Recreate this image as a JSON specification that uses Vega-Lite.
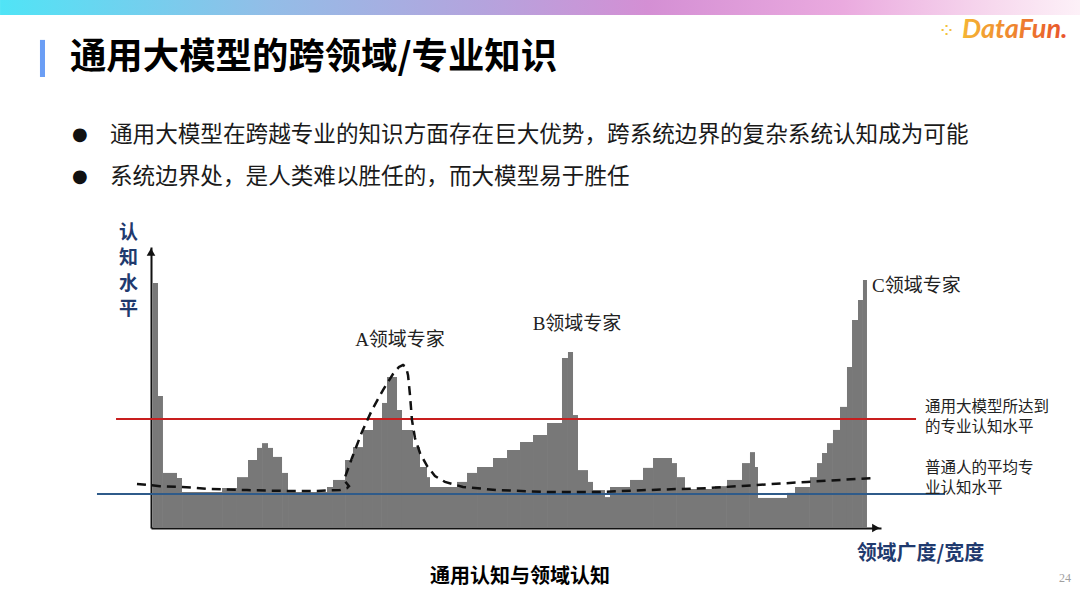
{
  "$schema": "https://vega.github.io/schema/vega-lite/v6.json",
  "width": 730,
  "height": 281,
  "autosize": {"type": "none"},
  "padding": {"left": 151, "top": 247, "right": 199, "bottom": 80},
  "background": "white",
  "config": {
    "view": {"stroke": null},
    "font": "Noto Sans CJK SC",
    "axis": {"labels": false, "ticks": false, "grid": false, "domainColor": "#111", "domainWidth": 2}
  },
  "datasets": {
    "bars": [
      {"x0": 0.27, "x1": 0.96, "level": 87.2},
      {"x0": 0.96, "x1": 1.64, "level": 47.0},
      {"x0": 1.64, "x1": 3.56, "level": 19.6},
      {"x0": 3.56, "x1": 4.25, "level": 17.8},
      {"x0": 4.25, "x1": 9.73, "level": 12.8},
      {"x0": 9.73, "x1": 11.78, "level": 14.2},
      {"x0": 11.78, "x1": 13.29, "level": 18.1},
      {"x0": 13.29, "x1": 14.52, "level": 24.2},
      {"x0": 14.52, "x1": 15.21, "level": 28.5},
      {"x0": 15.21, "x1": 16.03, "level": 30.2},
      {"x0": 16.03, "x1": 16.71, "level": 28.5},
      {"x0": 16.71, "x1": 17.95, "level": 25.3},
      {"x0": 17.95, "x1": 18.77, "level": 19.6},
      {"x0": 18.77, "x1": 24.11, "level": 12.8},
      {"x0": 24.11, "x1": 24.93, "level": 14.6},
      {"x0": 24.93, "x1": 26.58, "level": 17.1},
      {"x0": 26.58, "x1": 27.67, "level": 24.2},
      {"x0": 27.67, "x1": 29.04, "level": 28.8},
      {"x0": 29.04, "x1": 30.41, "level": 34.9},
      {"x0": 30.41, "x1": 31.64, "level": 38.4},
      {"x0": 31.64, "x1": 32.33, "level": 44.5},
      {"x0": 32.33, "x1": 33.70, "level": 53.7},
      {"x0": 33.70, "x1": 34.38, "level": 42.0},
      {"x0": 34.38, "x1": 35.89, "level": 34.9},
      {"x0": 35.89, "x1": 36.85, "level": 28.8},
      {"x0": 36.85, "x1": 37.81, "level": 21.7},
      {"x0": 37.81, "x1": 38.22, "level": 18.1},
      {"x0": 38.22, "x1": 41.92, "level": 14.6},
      {"x0": 41.92, "x1": 43.29, "level": 16.4},
      {"x0": 43.29, "x1": 44.66, "level": 19.6},
      {"x0": 44.66, "x1": 46.85, "level": 21.7},
      {"x0": 46.85, "x1": 48.77, "level": 24.9},
      {"x0": 48.77, "x1": 50.55, "level": 27.8},
      {"x0": 50.55, "x1": 52.33, "level": 30.6},
      {"x0": 52.33, "x1": 54.25, "level": 33.1},
      {"x0": 54.25, "x1": 56.30, "level": 37.4},
      {"x0": 56.30, "x1": 57.12, "level": 60.5},
      {"x0": 57.12, "x1": 57.81, "level": 62.6},
      {"x0": 57.81, "x1": 58.49, "level": 40.2},
      {"x0": 58.49, "x1": 59.86, "level": 20.6},
      {"x0": 59.86, "x1": 60.55, "level": 16.4},
      {"x0": 60.55, "x1": 62.19, "level": 13.5},
      {"x0": 62.19, "x1": 62.88, "level": 11.0},
      {"x0": 62.88, "x1": 65.62, "level": 14.6},
      {"x0": 65.62, "x1": 67.40, "level": 17.1},
      {"x0": 67.40, "x1": 68.77, "level": 21.4},
      {"x0": 68.77, "x1": 71.37, "level": 24.9},
      {"x0": 71.37, "x1": 72.05, "level": 23.1},
      {"x0": 72.05, "x1": 73.15, "level": 18.1},
      {"x0": 73.15, "x1": 77.26, "level": 13.9},
      {"x0": 77.26, "x1": 78.90, "level": 14.9},
      {"x0": 78.90, "x1": 80.96, "level": 17.1},
      {"x0": 80.96, "x1": 82.05, "level": 23.1},
      {"x0": 82.05, "x1": 82.74, "level": 27.0},
      {"x0": 82.74, "x1": 83.15, "level": 21.7},
      {"x0": 83.15, "x1": 87.12, "level": 10.7},
      {"x0": 87.12, "x1": 88.22, "level": 12.5},
      {"x0": 88.22, "x1": 90.27, "level": 14.6},
      {"x0": 90.27, "x1": 91.23, "level": 18.1},
      {"x0": 91.23, "x1": 91.92, "level": 23.1},
      {"x0": 91.92, "x1": 92.60, "level": 26.7},
      {"x0": 92.60, "x1": 93.42, "level": 30.2},
      {"x0": 93.42, "x1": 94.38, "level": 34.9},
      {"x0": 94.38, "x1": 95.34, "level": 43.1},
      {"x0": 95.34, "x1": 96.03, "level": 57.3},
      {"x0": 96.03, "x1": 96.85, "level": 74.0},
      {"x0": 96.85, "x1": 97.53, "level": 81.1},
      {"x0": 97.53, "x1": 98.08, "level": 88.3}
    ],
    "levels": [
      {"series": "model", "level": 38.8, "from": -4.79, "to": 104.8},
      {"series": "human", "level": 12.1, "from": -7.4, "to": 108.77}
    ],
    "curve": [
      {"i": 1, "u": -1.92, "L": 15.7},
      {"i": 2, "u": 1.23, "L": 14.9},
      {"i": 3, "u": 4.25, "L": 14.6},
      {"i": 4, "u": 8.08, "L": 13.9},
      {"i": 5, "u": 13.15, "L": 13.5},
      {"i": 6, "u": 18.08, "L": 13.2},
      {"i": 7, "u": 22.74, "L": 13.2},
      {"i": 8, "u": 25.89, "L": 13.5},
      {"i": 9, "u": 26.85, "L": 14.2},
      {"i": 10, "u": 27.12, "L": 14.9},
      {"i": 11, "u": 26.44, "L": 17.1},
      {"i": 12, "u": 27.53, "L": 24.9},
      {"i": 13, "u": 28.9, "L": 34.2},
      {"i": 14, "u": 30.27, "L": 42.0},
      {"i": 15, "u": 31.78, "L": 49.1},
      {"i": 16, "u": 33.15, "L": 54.8},
      {"i": 17, "u": 33.97, "L": 57.3},
      {"i": 18, "u": 34.52, "L": 58.0},
      {"i": 19, "u": 34.93, "L": 57.3},
      {"i": 20, "u": 35.21, "L": 54.4},
      {"i": 21, "u": 35.48, "L": 47.3},
      {"i": 22, "u": 35.75, "L": 38.4},
      {"i": 23, "u": 36.16, "L": 32.0},
      {"i": 24, "u": 36.85, "L": 26.7},
      {"i": 25, "u": 37.81, "L": 22.1},
      {"i": 26, "u": 38.9, "L": 18.5},
      {"i": 27, "u": 40.27, "L": 16.4},
      {"i": 28, "u": 42.74, "L": 14.6},
      {"i": 29, "u": 47.4, "L": 13.5},
      {"i": 30, "u": 54.25, "L": 12.8},
      {"i": 31, "u": 61.1, "L": 12.8},
      {"i": 32, "u": 67.95, "L": 13.5},
      {"i": 33, "u": 76.16, "L": 14.2},
      {"i": 34, "u": 83.01, "L": 15.3},
      {"i": 35, "u": 89.86, "L": 16.4},
      {"i": 36, "u": 98.9, "L": 17.8}
    ],
    "arrows": [
      {"axis": "y", "u": 0, "L": 98.2},
      {"axis": "x", "u": 99.3, "L": 0}
    ],
    "strip": [{"x0": -20.68, "x1": 127.26, "y0": 182.6, "y1": 187.9}],
    "marker": [{"x0": -15.21, "x1": -14.52, "y0": 160.5, "y1": 173.7}],
    "heading": [{"text": "通用大模型的跨领域/专业知识", "u": -11.1, "L": 167.3}],
    "bulletDots": [{"text": "●", "u": -9.73, "L": 139.9}, {"text": "●", "u": -9.73, "L": 124.9}],
    "bullets": [
      {"text": "通用大模型在跨越专业的知识方面存在巨大优势，跨系统边界的复杂系统认知成为可能", "u": -5.62, "L": 139.9},
      {"text": "系统边界处，是人类难以胜任的，而大模型易于胜任", "u": -5.62, "L": 124.9}
    ],
    "experts": [
      {"text": "A领域专家", "u": 34.11, "L": 66.9},
      {"text": "B领域专家", "u": 58.36, "L": 72.6}
    ],
    "expertC": [{"text": "C领域专家", "u": 98.77, "L": 86.1}],
    "notes": [
      {"text": "通用大模型所达到\n的专业认知水平", "u": 106.03, "L": 43.1},
      {"text": "普通人的平均专\n业认知水平", "u": 106.03, "L": 21.4}
    ],
    "caption": [{"text": "通用认知与领域认知", "u": 50.55, "L": -17.4}],
    "logoDots": [{"text": "⁘", "u": 109.0, "L": 177.0}],
    "logo": [{"text": "DataFun.", "u": 111.1, "L": 177.2}],
    "page": [{"text": "24", "u": 125.2, "L": -17.8}]
  },
  "layer": [
    {
      "data": {"name": "bars"},
      "mark": {"type": "rect", "color": "#787878"},
      "encoding": {
        "x": {"field": "x0", "type": "quantitative", "scale": {"domain": [0, 100], "nice": false, "zero": false},
              "axis": {"title": "领域广度/宽度", "titleX": 769, "titleY": 25, "titleAlign": "center", "titleBaseline": "middle",
                       "titleFontSize": 20, "titleFontWeight": "bold", "titleColor": "#1f3a6e", "titleFont": "Noto Sans CJK SC"}},
        "x2": {"field": "x1"},
        "y": {"field": "level", "type": "quantitative", "scale": {"domain": [0, 100], "nice": false, "zero": false},
              "axis": {"title": ["认", "知", "水", "平"], "titleAngle": 0, "titleX": -23, "titleY": -24, "titleAlign": "center",
                       "titleBaseline": "top", "titleLineHeight": 25.5, "titleFontSize": 19, "titleFontWeight": "bold",
                       "titleColor": "#1f3a6e", "titleFont": "Noto Sans CJK SC"}},
        "y2": {"datum": 0}
      }
    },
    {
      "data": {"name": "levels"},
      "mark": {"type": "rule", "strokeWidth": 2},
      "encoding": {
        "x": {"field": "from", "type": "quantitative"},
        "x2": {"field": "to"},
        "y": {"field": "level", "type": "quantitative"},
        "color": {"field": "series", "type": "nominal", "scale": {"domain": ["model", "human"], "range": ["#c81e1e", "#2f5b8a"]}, "legend": null}
      }
    },
    {
      "data": {"name": "curve"},
      "mark": {"type": "line", "color": "#111", "strokeWidth": 2.5, "strokeDash": [9, 6]},
      "encoding": {
        "x": {"field": "u", "type": "quantitative"},
        "y": {"field": "L", "type": "quantitative"},
        "order": {"field": "i", "type": "quantitative"}
      }
    },
    {
      "data": {"name": "arrows"},
      "mark": {"type": "point", "filled": true, "color": "#111", "size": 75, "opacity": 1},
      "encoding": {
        "x": {"field": "u", "type": "quantitative"},
        "y": {"field": "L", "type": "quantitative"},
        "shape": {"field": "axis", "type": "nominal", "scale": {"domain": ["y", "x"], "range": ["triangle-up", "triangle-right"]}, "legend": null}
      }
    },
    {
      "data": {"name": "strip"},
      "mark": {"type": "rect", "color": {"gradient": "linear", "x1": 0, "x2": 1, "y1": 0, "y2": 0,
        "stops": [
          {"offset": 0, "color": "#50e4f6"},
          {"offset": 0.25, "color": "#93bde7"},
          {"offset": 0.45, "color": "#b5a3dd"},
          {"offset": 0.6, "color": "#d48fd4"},
          {"offset": 0.78, "color": "#eaaadf"},
          {"offset": 0.92, "color": "#f7d9ee"},
          {"offset": 1, "color": "#fdf1f8"}
        ]}},
      "encoding": {
        "x": {"field": "x0", "type": "quantitative"},
        "x2": {"field": "x1"},
        "y": {"field": "y0", "type": "quantitative"},
        "y2": {"field": "y1"}
      }
    },
    {
      "data": {"name": "marker"},
      "mark": {"type": "rect", "color": "#6b9ef5"},
      "encoding": {
        "x": {"field": "x0", "type": "quantitative"},
        "x2": {"field": "x1"},
        "y": {"field": "y0", "type": "quantitative"},
        "y2": {"field": "y1"}
      }
    },
    {
      "data": {"name": "heading"},
      "mark": {"type": "text", "align": "left", "baseline": "middle", "fontSize": 36.4, "fontWeight": "bold", "color": "#000", "font": "Noto Sans CJK SC"},
      "encoding": {
        "x": {"field": "u", "type": "quantitative"},
        "y": {"field": "L", "type": "quantitative"},
        "text": {"field": "text"}
      }
    },
    {
      "data": {"name": "bulletDots"},
      "mark": {"type": "text", "align": "center", "baseline": "middle", "fontSize": 18, "color": "#111", "font": "DejaVu Sans"},
      "encoding": {
        "x": {"field": "u", "type": "quantitative"},
        "y": {"field": "L", "type": "quantitative"},
        "text": {"field": "text"}
      }
    },
    {
      "data": {"name": "bullets"},
      "mark": {"type": "text", "align": "left", "baseline": "middle", "fontSize": 22.6, "color": "#1a1a1a", "font": "Noto Sans CJK SC"},
      "encoding": {
        "x": {"field": "u", "type": "quantitative"},
        "y": {"field": "L", "type": "quantitative"},
        "text": {"field": "text"}
      }
    },
    {
      "data": {"name": "experts"},
      "mark": {"type": "text", "align": "center", "baseline": "middle", "fontSize": 19, "color": "#222", "font": "Liberation Serif, Noto Sans CJK SC"},
      "encoding": {
        "x": {"field": "u", "type": "quantitative"},
        "y": {"field": "L", "type": "quantitative"},
        "text": {"field": "text"}
      }
    },
    {
      "data": {"name": "expertC"},
      "mark": {"type": "text", "align": "left", "baseline": "middle", "fontSize": 19, "color": "#222", "font": "Liberation Serif, Noto Sans CJK SC"},
      "encoding": {
        "x": {"field": "u", "type": "quantitative"},
        "y": {"field": "L", "type": "quantitative"},
        "text": {"field": "text"}
      }
    },
    {
      "data": {"name": "notes"},
      "mark": {"type": "text", "align": "left", "baseline": "middle", "fontSize": 15.5, "lineHeight": 20, "lineBreak": "\n", "color": "#222", "font": "Noto Sans CJK SC"},
      "encoding": {
        "x": {"field": "u", "type": "quantitative"},
        "y": {"field": "L", "type": "quantitative"},
        "text": {"field": "text"}
      }
    },
    {
      "data": {"name": "caption"},
      "mark": {"type": "text", "align": "center", "baseline": "middle", "fontSize": 20, "fontWeight": "bold", "color": "#000", "font": "Noto Sans CJK SC"},
      "encoding": {
        "x": {"field": "u", "type": "quantitative"},
        "y": {"field": "L", "type": "quantitative"},
        "text": {"field": "text"}
      }
    },
    {
      "data": {"name": "logoDots"},
      "mark": {"type": "text", "align": "center", "baseline": "middle", "fontSize": 20, "color": "#f3c23a", "font": "DejaVu Sans"},
      "encoding": {
        "x": {"field": "u", "type": "quantitative"},
        "y": {"field": "L", "type": "quantitative"},
        "text": {"field": "text"}
      }
    },
    {
      "data": {"name": "logo"},
      "mark": {"type": "text", "align": "left", "baseline": "middle", "fontSize": 27, "fontWeight": "bold", "fontStyle": "italic", "font": "Lato, Liberation Sans",
               "color": {"gradient": "linear", "x1": 0, "x2": 1, "y1": 0, "y2": 0, "stops": [{"offset": 0, "color": "#f5b534"}, {"offset": 1, "color": "#e8532b"}]}},
      "encoding": {
        "x": {"field": "u", "type": "quantitative"},
        "y": {"field": "L", "type": "quantitative"},
        "text": {"field": "text"}
      }
    },
    {
      "data": {"name": "page"},
      "mark": {"type": "text", "align": "center", "baseline": "middle", "fontSize": 12, "color": "#a0a0a0", "font": "Liberation Serif"},
      "encoding": {
        "x": {"field": "u", "type": "quantitative"},
        "y": {"field": "L", "type": "quantitative"},
        "text": {"field": "text"}
      }
    }
  ]
}
